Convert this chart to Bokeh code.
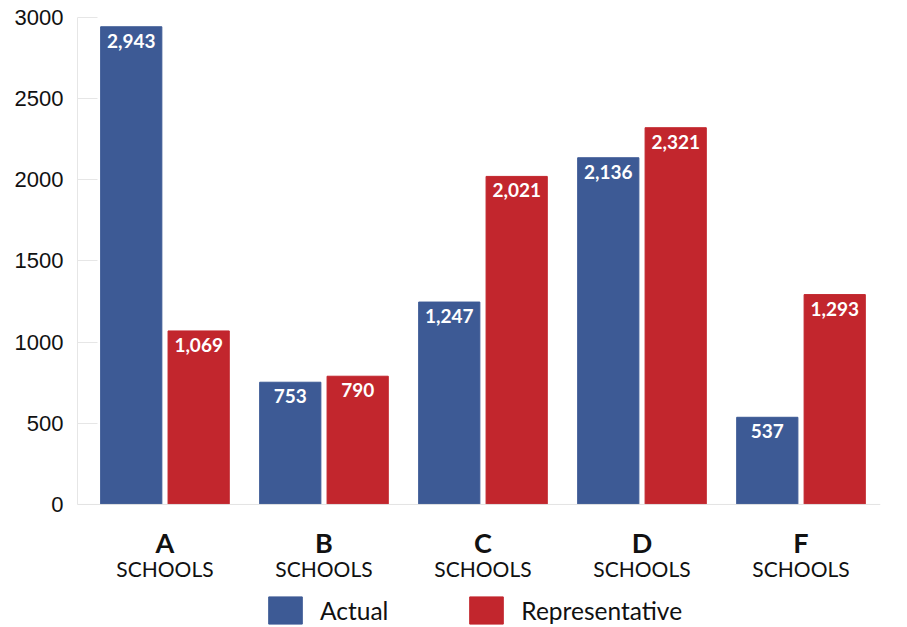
from bokeh.plotting import figure
from bokeh.models import (ColumnDataSource, Range1d, FixedTicker, LinearAxis,
                          Legend, LegendItem, Span)
from bokeh.core.properties import value
from bokeh.embed import file_html
from bokeh.resources import INLINE

grades = ["A", "B", "C", "D", "F"]
sublabel = "SCHOOLS"
actual = [2943, 753, 1247, 2136, 537]
representative = [1069, 790, 2021, 2321, 1293]
series_names = ["Actual", "Representative"]
y_ticks = [0, 500, 1000, 1500, 2000, 2500, 3000]

BLUE = "#3d5a95"
RED = "#c2262d"
INK = "#111111"

idx = list(range(len(grades)))
off = 0.212
bw = 0.385

src_a = ColumnDataSource(dict(x=[i - off for i in idx], top=actual,
                              lab=[f"{v:,}" for v in actual]))
src_r = ColumnDataSource(dict(x=[i + off for i in idx], top=representative,
                              lab=[f"{v:,}" for v in representative]))
src_c = ColumnDataSource(dict(x=idx, y=[0] * len(idx), g=grades,
                              s=[sublabel] * len(idx)))

# frame spans the whole lower area so that category labels and legend fit
p = figure(width=907, height=627, output_backend="svg", toolbar_location=None,
           x_range=Range1d(-0.55, 4.5), y_range=Range1d(-758, 3000),
           x_axis_location=None, y_axis_location=None,
           min_border_left=77, min_border_right=27, min_border_top=17,
           min_border_bottom=0)
p.outline_line_color = None
p.xgrid.visible = False
p.ygrid.visible = False

ra = p.vbar(x="x", top="top", bottom=0, width=bw, source=src_a,
            fill_color=BLUE, line_color=BLUE)
rr = p.vbar(x="x", top="top", bottom=0, width=bw, source=src_r,
            fill_color=RED, line_color=RED)

p.add_layout(Span(location=0, dimension="width", line_color="#e3e3e3",
                  line_width=1))

for s in (src_a, src_r):
    p.text(x="x", y="top", text="lab", source=s, text_align="center",
           text_baseline="alphabetic", y_offset=14, text_color="white",
           text_font=value("Lato"), text_font_style="bold",
           text_font_size="19px")

# category labels
p.text(x="x", y="y", text="g", source=src_c, text_align="center",
       text_baseline="alphabetic", y_offset=38, text_color=INK,
       text_font=value("Lato"), text_font_style="bold", text_font_size="27px")
p.text(x="x", y="y", text="s", source=src_c, text_align="center",
       text_baseline="alphabetic", y_offset=64, text_color=INK,
       text_font=value("Lato"), text_font_size="21px")

# y axis
yax = LinearAxis(ticker=FixedTicker(ticks=y_ticks), bounds=(0, 3000))
yax.axis_line_color = "#e6e6e6"
yax.major_tick_line_color = "#e6e6e6"
yax.major_tick_in = 20
yax.major_tick_out = 0
yax.minor_tick_line_color = None
yax.major_label_standoff = 14
yax.major_label_text_font = "Liberation Sans"
yax.major_label_text_font_size = "22px"
yax.major_label_text_color = INK
p.add_layout(yax, "left")

legend = Legend(items=[LegendItem(label=series_names[0], renderers=[ra]),
                       LegendItem(label=series_names[1], renderers=[rr])],
                orientation="horizontal", location=(187, 0),
                spacing=77, label_standoff=14, glyph_width=42, glyph_height=34,
                label_height=34,
                label_text_font="Lato", label_text_font_size="24.5px",
                label_text_color=INK, border_line_color=None,
                background_fill_alpha=0, margin=0, padding=0)
p.add_layout(legend, "center")

open("out.html", "w").write(file_html(p, INLINE))
